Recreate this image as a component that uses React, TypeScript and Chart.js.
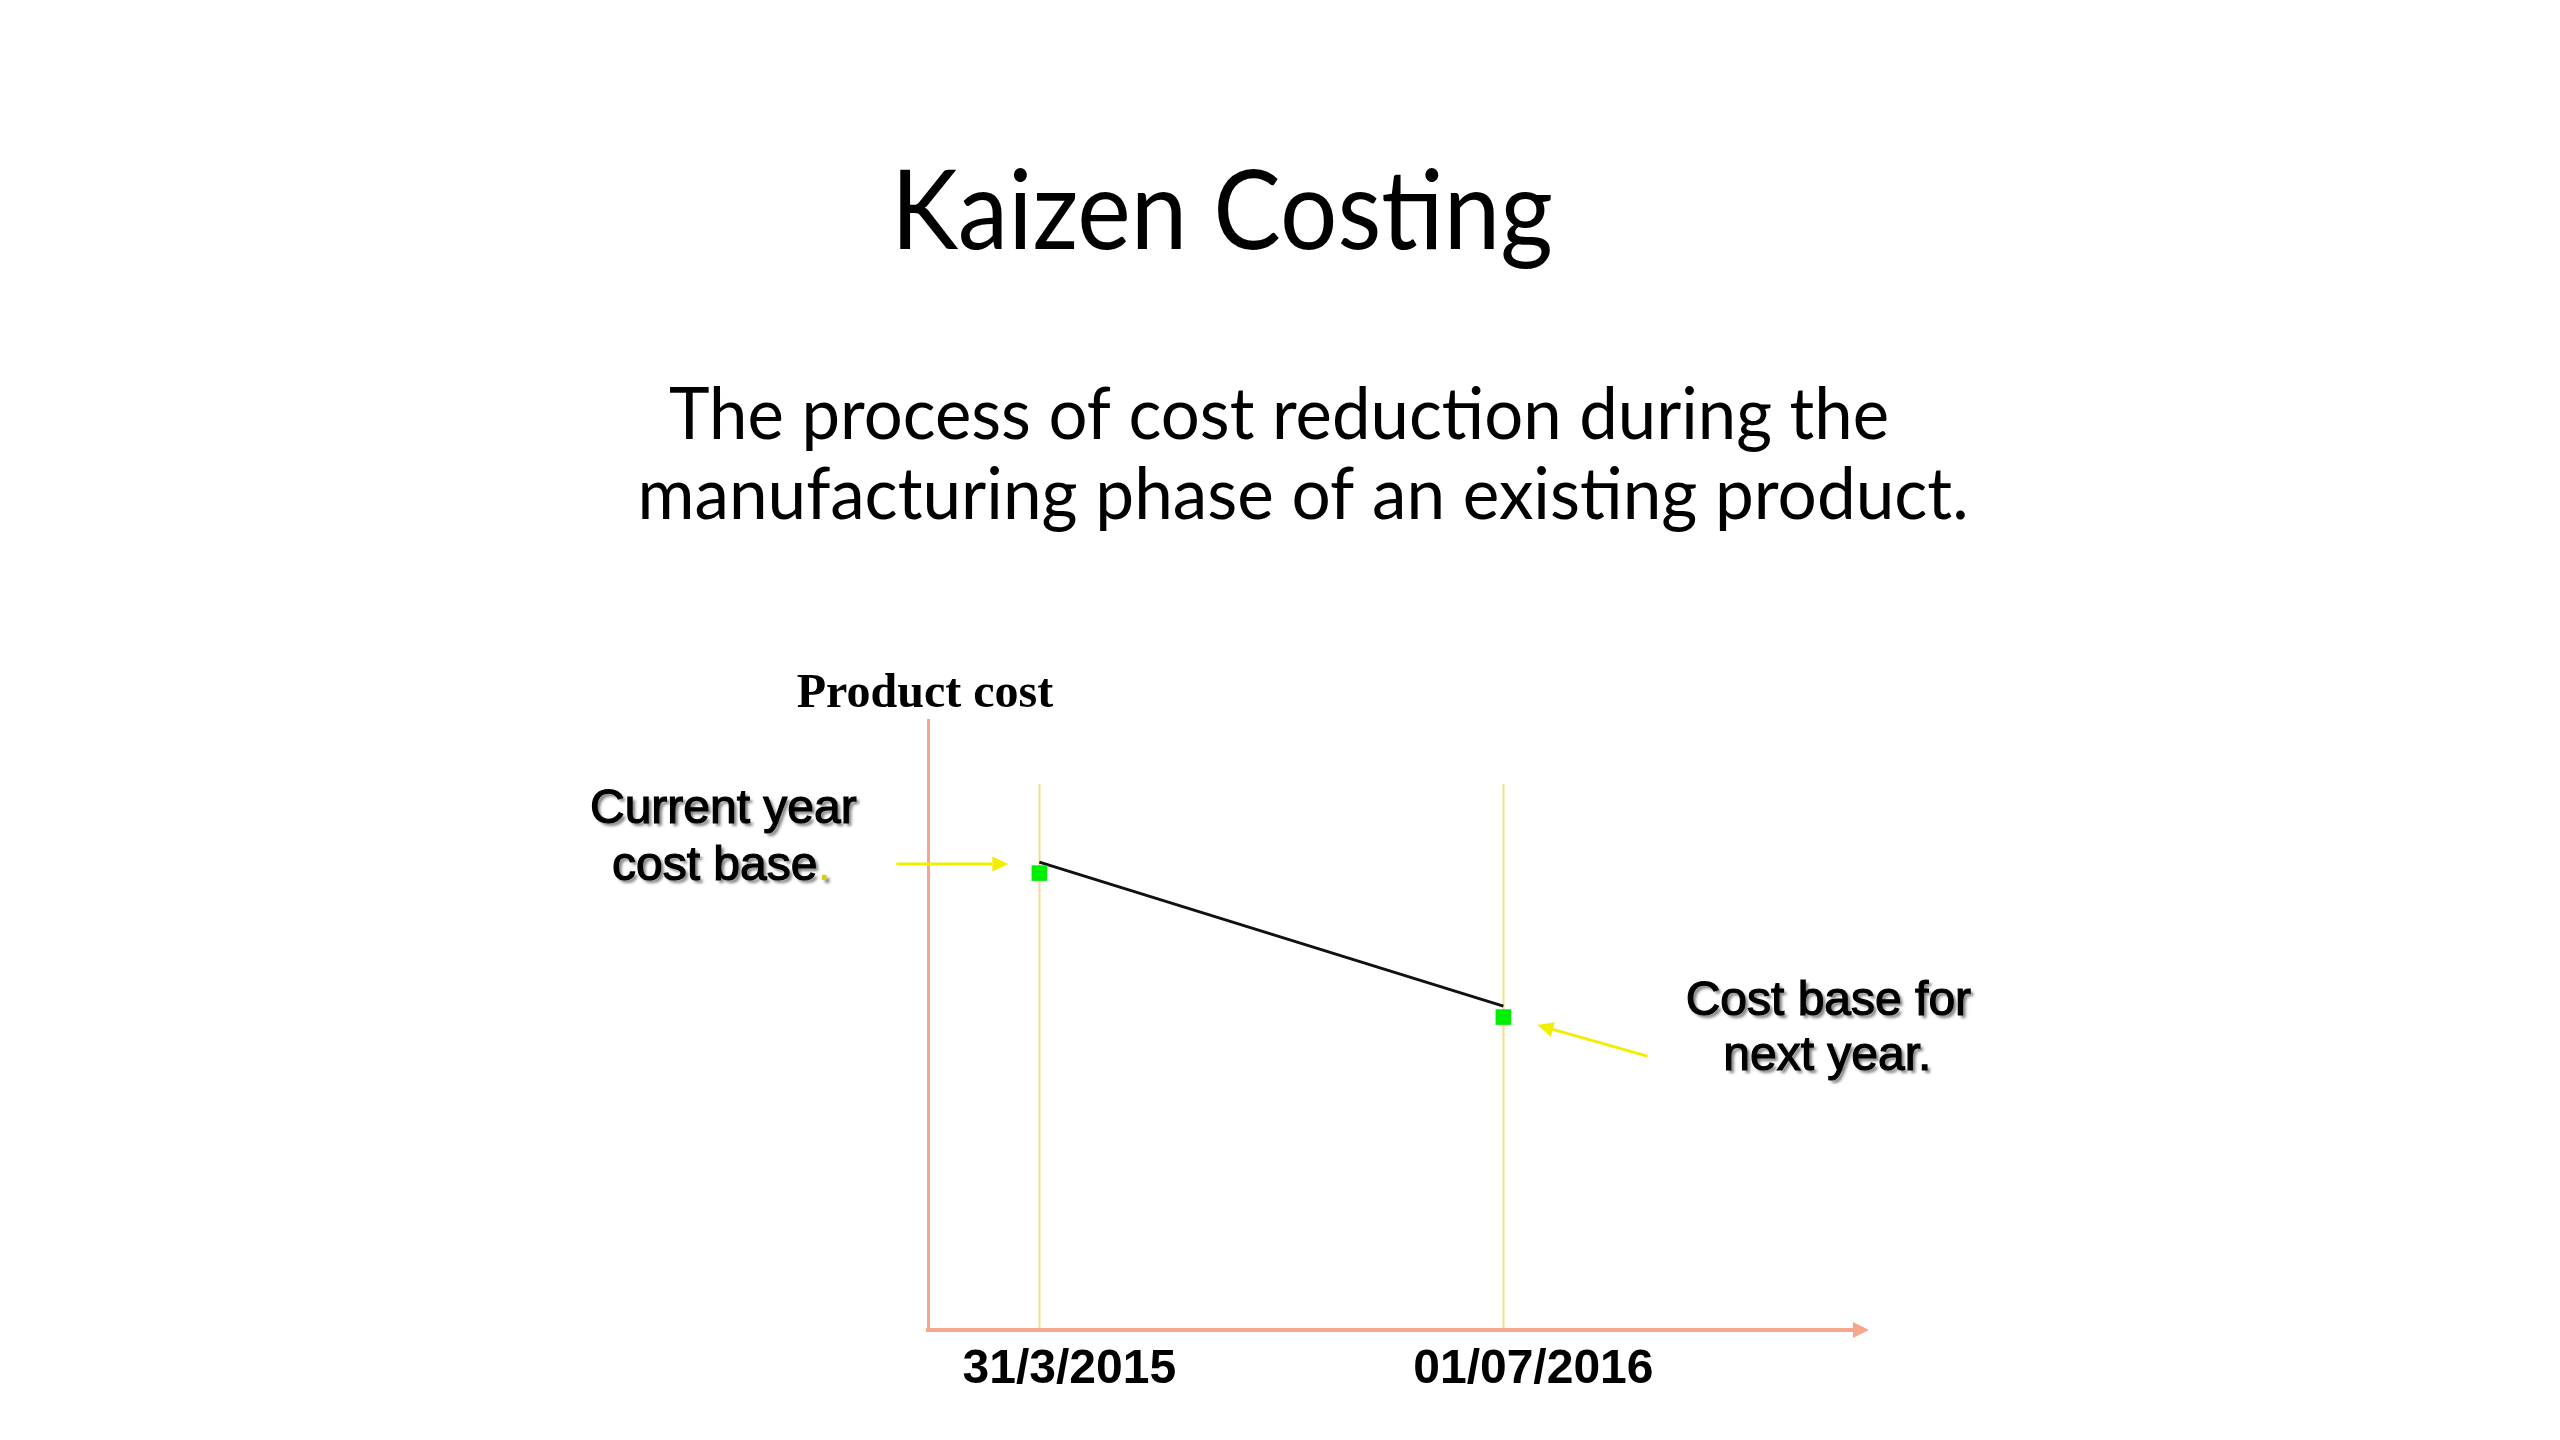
import React, { useEffect, useRef } from "react";
import { Chart, registerables } from "chart.js";

Chart.register(...registerables);

// ---- data ----
const DATE_LABELS = ["31/3/2015", "01/07/2016"];
const DATE_POS = [12, 62]; // position of each date along the time axis (0–100)
const COST_LINE = [76.7, 53.1]; // product-cost trend line (0–100 scale)
const COST_BASE = [74.9, 51.3]; // green cost-base markers
const GUIDE_TOP = 89.5; // top of the yellow date guides
const TITLE = "Kaizen Costing";
const SUBTITLE = [
  "The process of cost reduction during the",
  "manufacturing phase of an existing product.",
];
const Y_TITLE = "Product cost";
const NOTE_CURRENT = ["Current year", "cost base", "."];
const NOTE_NEXT = ["Cost base for", "next year."];

const AXIS_COLOR = "#F6A88F";
const GUIDE_COLORS = ["#F9DA92", "#F5E07C"];
const ARROW_COLOR = "#F2EE00";

function drawArrow(ctx: CanvasRenderingContext2D, x0: number, y0: number, x1: number, y1: number, color: string, width: number, headLen: number, headHalf: number) {
  const ang = Math.atan2(y1 - y0, x1 - x0);
  const bx = x1 - Math.cos(ang) * headLen;
  const by = y1 - Math.sin(ang) * headLen;
  ctx.save();
  ctx.strokeStyle = color;
  ctx.fillStyle = color;
  ctx.lineWidth = width;
  ctx.beginPath();
  ctx.moveTo(x0, y0);
  ctx.lineTo(bx, by);
  ctx.stroke();
  ctx.beginPath();
  ctx.moveTo(x1, y1);
  ctx.lineTo(bx + Math.sin(ang) * headHalf, by - Math.cos(ang) * headHalf);
  ctx.lineTo(bx - Math.sin(ang) * headHalf, by + Math.cos(ang) * headHalf);
  ctx.closePath();
  ctx.fill();
  ctx.restore();
}

function heavyText(ctx: CanvasRenderingContext2D, text: string, x: number, y: number) {
  ctx.fillText(text, x, y);
  ctx.shadowColor = "transparent";
  ctx.strokeText(text, x, y);
  ctx.shadowColor = "rgba(0,0,0,0.5)";
}

const decorPlugin = {
  id: "decor",
  beforeDatasetsDraw(chart: any) {
    const { ctx, scales } = chart;
    const x = scales.x;
    const y = scales.y;
    ctx.save();
    ctx.lineWidth = 2;
    DATE_POS.forEach((v, i) => {
      const px = Math.round(x.getPixelForValue(v)) + 0.5;
      ctx.strokeStyle = GUIDE_COLORS[i];
      ctx.beginPath();
      ctx.moveTo(px, y.getPixelForValue(GUIDE_TOP));
      ctx.lineTo(px, y.getPixelForValue(0) - 2);
      ctx.stroke();
    });
    ctx.restore();
  },
  afterDraw(chart: any) {
    const { ctx, chartArea, scales } = chart;
    const x = scales.x;
    const y = scales.y;

    // arrow head at the end of the time axis
    ctx.save();
    ctx.fillStyle = AXIS_COLOR;
    ctx.beginPath();
    ctx.moveTo(chartArea.right + 13, chartArea.bottom);
    ctx.lineTo(chartArea.right - 3, chartArea.bottom - 8);
    ctx.lineTo(chartArea.right - 3, chartArea.bottom + 8);
    ctx.closePath();
    ctx.fill();
    ctx.restore();

    // title & subtitle
    ctx.save();
    ctx.fillStyle = "#000";
    ctx.textAlign = "center";
    ctx.textBaseline = "alphabetic";
    ctx.font = '110px Lato, "Open Sans", sans-serif';
    ctx.fillText(TITLE, 1222, 249, 662);
    ctx.font = '72px Lato, "Open Sans", sans-serif';
    ctx.fillText(SUBTITLE[0], 1279, 439, 1220);
    ctx.fillText(SUBTITLE[1], 1303, 519, 1331);

    // y-axis title
    ctx.font = 'bold 48px "Liberation Serif", "Times New Roman", serif';
    ctx.fillText(Y_TITLE, chartArea.left - 3, chartArea.top - 13);
    ctx.restore();

    const m1x = x.getPixelForValue(DATE_POS[0]);
    const m1y = y.getPixelForValue(COST_BASE[0]);
    const m2x = x.getPixelForValue(DATE_POS[1]);
    const m2y = y.getPixelForValue(COST_BASE[1]);

    // arrows
    drawArrow(ctx, m1x - 143, m1y - 9, m1x - 31, m1y - 9, ARROW_COLOR, 3, 16, 7.5);
    drawArrow(ctx, m2x + 144, m2y + 39, m2x + 34, m2y + 8, ARROW_COLOR, 3, 16, 7.5);

    // annotations
    ctx.save();
    ctx.font = '48px "Liberation Sans", Arial, sans-serif';
    ctx.textBaseline = "alphabetic";
    ctx.shadowColor = "rgba(0,0,0,0.5)";
    ctx.shadowOffsetX = 3;
    ctx.shadowOffsetY = 3;
    ctx.shadowBlur = 3;
    ctx.fillStyle = "#000";
    ctx.strokeStyle = "#000";
    ctx.lineWidth = 1.2;
    ctx.textAlign = "center";
    heavyText(ctx, NOTE_CURRENT[0], m1x - 316, m1y - 50);
    const wBase = ctx.measureText(NOTE_CURRENT[1]).width;
    const wDot = ctx.measureText(NOTE_CURRENT[2]).width;
    const sx = m1x - 318 - (wBase + wDot) / 2;
    ctx.textAlign = "left";
    heavyText(ctx, NOTE_CURRENT[1], sx, m1y + 7);
    ctx.fillStyle = "#D8D000";
    ctx.fillText(NOTE_CURRENT[2], sx + wBase, m1y + 7);
    ctx.fillStyle = "#000";
    ctx.textAlign = "center";
    heavyText(ctx, NOTE_NEXT[0], m2x + 325, m2y - 2);
    heavyText(ctx, NOTE_NEXT[1], m2x + 324, m2y + 53);
    ctx.restore();
  },
};

export default function App() {
  const ref = useRef<HTMLCanvasElement | null>(null);

  useEffect(() => {
    if (!ref.current) return;
    const chart = new Chart(ref.current, {
      type: "scatter",
      data: {
        datasets: [
          {
            label: "Cost base",
            data: DATE_POS.map((v, i) => ({ x: v, y: COST_BASE[i] })),
            showLine: false,
            pointStyle: "rect",
            pointRadius: 11,
            pointHoverRadius: 11,
            pointBackgroundColor: "#00EE00",
            pointBorderWidth: 0,
            pointBorderColor: "#00EE00",
          },
          {
            label: "Product cost",
            data: DATE_POS.map((v, i) => ({ x: v, y: COST_LINE[i] })),
            showLine: true,
            borderColor: "#111111",
            borderWidth: 3,
            pointRadius: 0,
            pointHoverRadius: 0,
          },
        ],
      },
      plugins: [decorPlugin],
      options: {
        responsive: false,
        animation: false,
        devicePixelRatio: 1,
        layout: { padding: { left: 928, right: 704, top: 720, bottom: 0 } },
        plugins: {
          legend: { display: false },
          tooltip: { enabled: false },
          title: { display: false },
        },
        scales: {
          x: {
            type: "linear",
            min: 0,
            max: 100,
            grid: { display: false },
            border: { display: true, color: AXIS_COLOR, width: 4 },
            afterFit: (s: any) => {
              s.height = 110;
            },
            afterBuildTicks: (s: any) => {
              s.ticks = DATE_POS.map((v) => ({ value: v }));
            },
            ticks: {
              autoSkip: false,
              maxRotation: 0,
              padding: 3,
              labelOffset: 30,
              color: "#000",
              font: { family: '"Liberation Sans", Arial, sans-serif', size: 48, weight: "bold" },
              callback: (value: any) => {
                const idx = DATE_POS.indexOf(Number(value));
                return idx >= 0 ? DATE_LABELS[idx] : "";
              },
            },
          },
          y: {
            type: "linear",
            min: 0,
            max: 100,
            grid: { display: false },
            border: { display: true, color: AXIS_COLOR, width: 3 },
            ticks: { display: false },
            afterFit: (s: any) => {
              s.width = 0;
            },
          },
        },
      },
    });
    return () => chart.destroy();
  }, []);

  return (
    <div style={{ position: "fixed", left: 0, top: 0, width: 2560, height: 1440, background: "#fff" }}>
      <canvas ref={ref} width={2560} height={1440} style={{ display: "block", width: 2560, height: 1440 }} />
    </div>
  );
}
